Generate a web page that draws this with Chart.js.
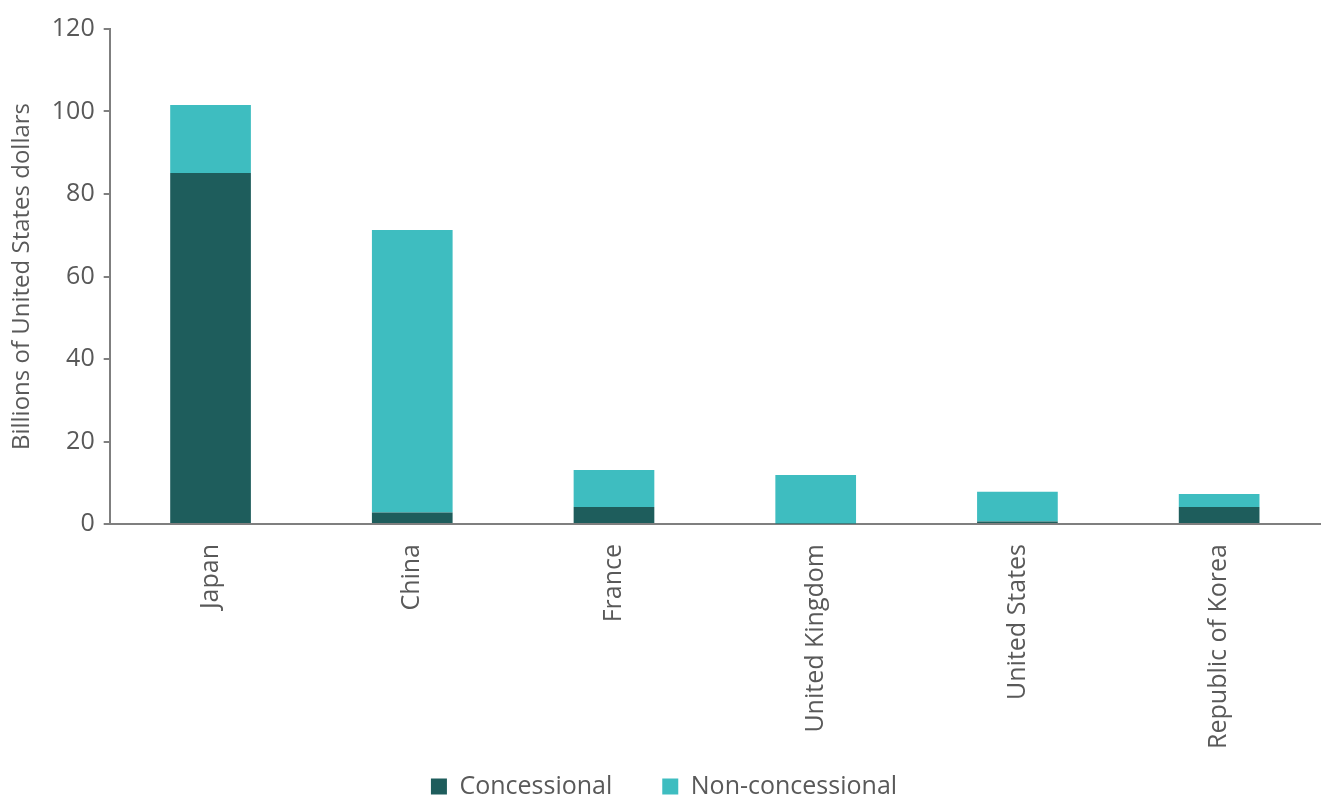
<!DOCTYPE html>
<html>
<head>
<meta charset="utf-8">
<script src="https://cdn.jsdelivr.net/npm/chart.js@4"></script>
<style>
  html, body { margin: 0; padding: 0; background: #fff; }
  #wrap { width: 1325px; height: 811px; }
</style>
</head>
<body>
<div id="wrap"><canvas id="barchart"></canvas></div>
<script>
var countries = ["Japan", "China", "France", "United Kingdom", "United States", "Republic of Korea"];
var concessional = [85.1, 2.8, 4.1, 0.1, 0.6, 4.1];
var nonConcessional = [16.5, 68.5, 9.0, 11.8, 7.2, 3.2];
var yTicks = [0, 20, 40, 60, 80, 100, 120];

var textColor = "#595959";
var fontFamily = "'Open Sans', 'Liberation Sans', sans-serif";

// x labels overlap the legend's empty top padding, so don't clip them at the scale box
var unclipLabels = {
  id: "unclipLabels",
  afterLayout: function (chart) {
    chart.scales.x.bottom = chart.height;
  },
};

var ctx = document.getElementById("barchart").getContext("2d");
var barchart = new Chart(ctx, {
  type: "bar",
  data: {
    labels: countries,
    datasets: [
      {
        label: "Concessional",
        data: concessional,
        backgroundColor: "#1e5d5c",
        barPercentage: 0.4,
        categoryPercentage: 1,
      },
      {
        label: "Non-concessional",
        data: nonConcessional,
        backgroundColor: "#3ebdc0",
        barPercentage: 0.4,
        categoryPercentage: 1,
      },
    ],
  },
  plugins: [unclipLabels],
  options: {
    responsive: true,
    maintainAspectRatio: false,
    animation: false,
    layout: { padding: { top: 29, right: 5, left: 8, bottom: 2 } },
    plugins: {
      legend: {
        display: true,
        position: "bottom",
        labels: {
          color: textColor,
          font: { family: fontFamily, size: 25 },
          boxWidth: 16,
          boxHeight: 16,
          padding: 50,
        },
      },
      tooltip: { enabled: false },
    },
    scales: {
      x: {
        stacked: true,
        grid: { display: false, drawTicks: false },
        border: { color: "#7f7f7f", width: 2 },
        ticks: {
          color: textColor,
          font: { family: fontFamily, size: 25 },
          minRotation: 90,
          maxRotation: 90,
          padding: 20,
        },
        afterFit: function (scale) {
          scale.height = 200;
        },
      },
      y: {
        stacked: true,
        min: 0,
        max: 120,
        afterBuildTicks: function (axis) {
          axis.ticks = yTicks.map(function (v) { return { value: v }; });
        },
        grid: { drawOnChartArea: false, tickLength: 6, color: "#7f7f7f", lineWidth: 2 },
        border: { color: "#7f7f7f", width: 2 },
        ticks: {
          color: textColor,
          font: { family: fontFamily, size: 25 },
          padding: 9,
        },
        title: {
          display: true,
          text: "Billions of United States dollars",
          color: textColor,
          font: { family: fontFamily, size: 24 },
          padding: { top: 0, bottom: 6 },
        },
      },
    },
  },
});
</script>
</body>
</html>
